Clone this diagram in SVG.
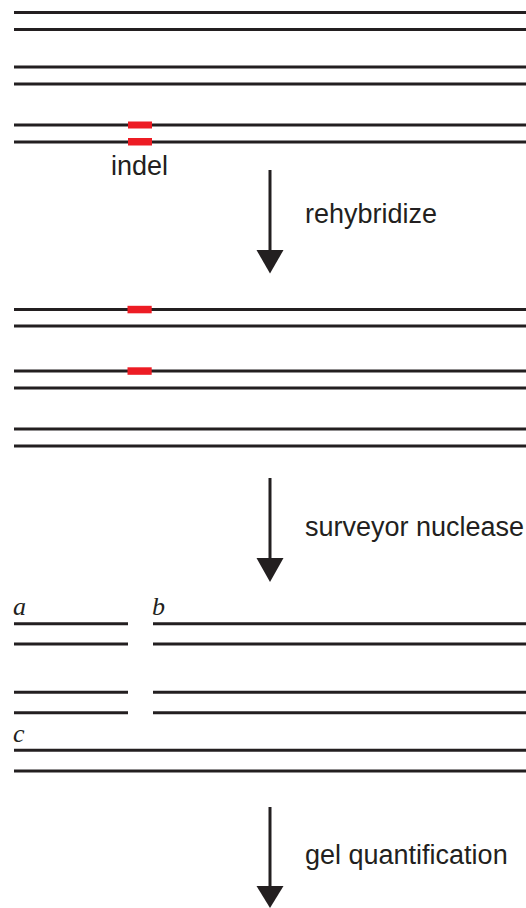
<svg xmlns="http://www.w3.org/2000/svg" width="526" height="908" viewBox="0 0 526 908">
<defs>
<style>
.s{stroke:#231f20;stroke-width:3;fill:none}
.r{fill:#ed1c24}
.t{font-family:"Liberation Sans",Arial,sans-serif;font-size:27px;fill:#231f20}
.i{font-family:"Liberation Serif","Times New Roman",serif;font-style:italic;font-size:26px;fill:#231f20}
.ah{fill:#231f20}
</style>
</defs>
<rect width="526" height="908" fill="#fff"/>
<g id="stage1">
<line class="s" x1="14" y1="12.5" x2="526" y2="12.5"/>
<line class="s" x1="14" y1="29.5" x2="526" y2="29.5"/>
<line class="s" x1="14" y1="67" x2="526" y2="67"/>
<line class="s" x1="14" y1="84" x2="526" y2="84"/>
<line class="s" x1="14" y1="125" x2="526" y2="125"/>
<line class="s" x1="14" y1="142" x2="526" y2="142"/>
<rect class="r" x="128" y="121.5" width="24" height="7"/>
<rect class="r" x="128" y="138" width="24" height="7.5"/>
<text class="t" x="111" y="175">indel</text>
</g>
<g id="stage2">
<line class="s" x1="14" y1="309.5" x2="526" y2="309.5"/>
<line class="s" x1="14" y1="326" x2="526" y2="326"/>
<line class="s" x1="14" y1="371" x2="526" y2="371"/>
<line class="s" x1="14" y1="388" x2="526" y2="388"/>
<line class="s" x1="14" y1="429" x2="526" y2="429"/>
<line class="s" x1="14" y1="446" x2="526" y2="446"/>
<rect class="r" x="127.5" y="305.8" width="24.2" height="7.5"/>
<rect class="r" x="127.5" y="367.3" width="24.2" height="7.5"/>
</g>
<g id="stage3">
<line class="s" x1="14" y1="623.7" x2="128" y2="623.7"/>
<line class="s" x1="14" y1="644" x2="128" y2="644"/>
<line class="s" x1="14" y1="692.3" x2="128" y2="692.3"/>
<line class="s" x1="14" y1="712.7" x2="128" y2="712.7"/>
<line class="s" x1="153" y1="623.7" x2="526" y2="623.7"/>
<line class="s" x1="153" y1="644" x2="526" y2="644"/>
<line class="s" x1="153" y1="692.3" x2="526" y2="692.3"/>
<line class="s" x1="153" y1="712.7" x2="526" y2="712.7"/>
<line class="s" x1="14" y1="750.3" x2="526" y2="750.3"/>
<line class="s" x1="14" y1="771" x2="526" y2="771"/>
<text class="i" x="13" y="615">a</text>
<text class="i" x="152" y="615">b</text>
<text class="i" x="13" y="742">c</text>
</g>
<g id="connectors">
<line class="s" x1="270" y1="170" x2="270" y2="252"/>
<polygon class="ah" points="256.5,250 283.5,250 270,273.5"/>
<line class="s" x1="270" y1="478" x2="270" y2="560"/>
<polygon class="ah" points="256.5,558 283.5,558 270,582"/>
<line class="s" x1="270" y1="807" x2="270" y2="888"/>
<polygon class="ah" points="256.5,886 283.5,886 270,908"/>
<text class="t" x="305" y="223">rehybridize</text>
<text class="t" x="305" y="536">surveyor nuclease</text>
<text class="t" x="305" y="864">gel quantification</text>
</g>
</svg>
